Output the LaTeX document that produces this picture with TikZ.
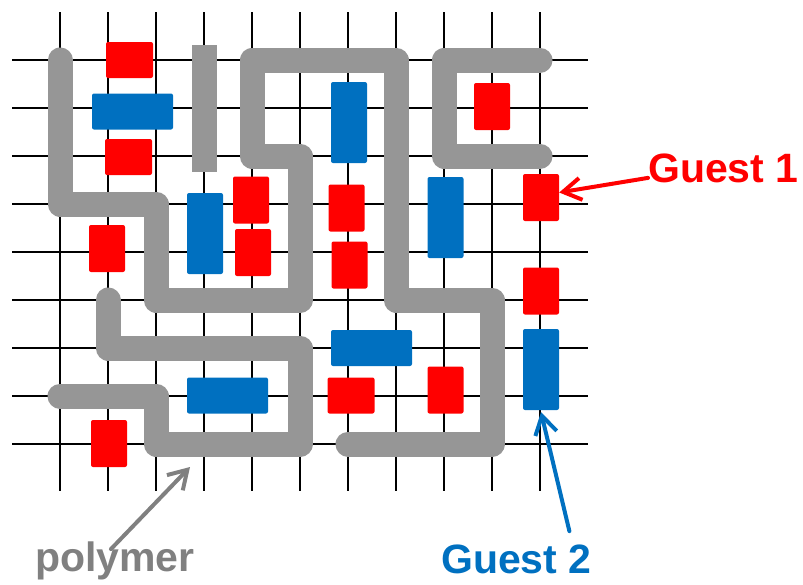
\documentclass[tikz,border=0pt]{standalone}
\usepackage{fontspec}
\setmainfont{Liberation Sans}
\usetikzlibrary{arrows.meta}
\definecolor{guestred}{RGB}{255,0,0}
\definecolor{guestblue}{RGB}{0,112,192}
\definecolor{chaingray}{RGB}{150,150,150}
\definecolor{labelgray}{RGB}{128,128,128}
\begin{document}
\begin{tikzpicture}[x=1pt, y=-1pt,
  guest/.style={rounded corners=2pt, inner sep=0pt},
  tallred/.style={guest, fill=guestred, minimum width=36pt, minimum height=47pt},
  widered/.style={guest, fill=guestred, minimum width=47pt, minimum height=36pt},
  tallblue/.style={guest, fill=guestblue, minimum width=36pt, minimum height=81pt},
  wideblue/.style={guest, fill=guestblue, minimum width=81pt, minimum height=36pt},
  chain/.style={draw=chaingray, line width=25pt, line join=round, line cap=round},
  tag/.style={inner sep=0pt, anchor=base west, font=\fontsize{41}{49}\selectfont\bfseries},
  pointer/.style={line width=4pt, line cap=round, -{Straight Barb[length=18pt,width=22pt]}}]
\useasboundingbox (0,0) rectangle (803,584);
% lattice
\foreach \i in {0,...,10}
  \draw[line width=2pt] ({60+48*\i},12) -- ({60+48*\i},491);
\foreach \j in {0,...,8}
  \draw[line width=2pt] (12,{60+48*\j}) -- (588,{60+48*\j});
% polymer chains
\draw[chain] (60,60) -- (60,204) -- (156,204) -- (156,300) -- (300,300) -- (300,156) -- (252,156) -- (252,60) -- (396,60) -- (396,300) -- (492,300) -- (492,444) -- (348,444);
\draw[chain] (108,300) -- (108,348) -- (300,348) -- (300,444) -- (156,444) -- (156,396) -- (60,396);
\draw[chain, line cap=butt] (204,45) -- (204,172);
\draw[chain] (540,60) -- (444,60) -- (444,156) -- (540,156);
\coordinate (hook) at (190,467);
% guest 1
\node[widered] (r1) at (129.5,60) {};
\node[widered] (r2) at (128.5,157) {};
\node[tallred] (r3) at (251,200) {};
\node[tallred] (r4) at (253,252.5) {};
\node[tallred] (r5) at (107,248.5) {};
\node[tallred] (r6) at (492,106.5) {};
\node[tallred] (r7) at (541,197.5) {};
\node[tallred] (r8) at (346.5,208) {};
\node[tallred] (r9) at (349.5,265) {};
\node[tallred] (r10) at (541,291) {};
\node[widered] (r11) at (351,395.5) {};
\node[tallred] (r12) at (445.5,390) {};
\node[tallred] (r13) at (109,443.5) {};
% guest 2
\node[wideblue] (b1) at (132.5,111.5) {};
\node[tallblue] (b2) at (205,233.5) {};
\node[tallblue] (b3) at (349,122.5) {};
\node[tallblue] (b4) at (445.5,217.5) {};
\node[tallblue] (b5) at (541,369.5) {};
\node[wideblue] (b6) at (371.5,348) {};
\node[wideblue] (b7) at (227.5,395.5) {};
% labels
\node[tag, text=guestred] (guestone) at (648,182) {Guest 1};
\node[tag, text=guestblue] (guesttwo) at (441,573) {Guest 2};
\node[tag, text=labelgray] (polylabel) at (35,571) {polymer};
\draw[pointer, guestred] ([yshift=-10pt]guestone.west) -- ([yshift=5pt]r7.east);
\draw[pointer, guestblue] ([xshift=53pt,yshift=13pt]guesttwo.north) -- ([yshift=-2pt]b5.south);
\draw[pointer, labelgray] ([xshift=-4pt,yshift=-8pt]polylabel.north) -- (hook);
\end{tikzpicture}
\end{document}
